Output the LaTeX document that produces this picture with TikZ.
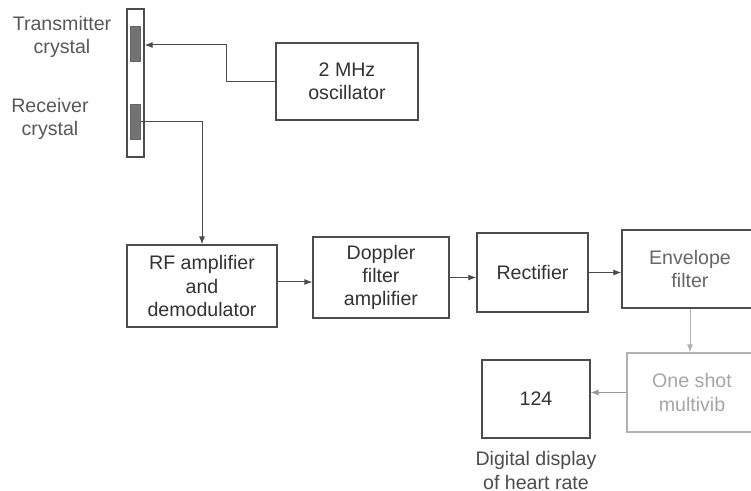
\documentclass[tikz,border=0pt]{standalone}
\usepackage{fontspec}
\setmainfont{Liberation Sans}
\usetikzlibrary{arrows.meta,positioning}

\begin{document}
\begin{tikzpicture}[x=0.5pt,y=-0.5pt,>={Latex[length=4pt,width=3pt]},
    font=\fontsize{9.8}{11.6}\selectfont,
    block/.style={draw=black!70, line width=0.6pt, text=black!80, align=center, inner sep=2pt},
    faded/.style={draw=black!30, text=black!35},
    link/.style={->, draw=black!70, line width=0.5pt},
    crystal/.style={draw=black!60, fill=black!55, minimum width=5pt, minimum height=17.5pt, inner sep=0pt}]

    % --- Page frame ---
    \fill[white] (0,0) rectangle (751,491);
    \useasboundingbox (0,0) rectangle (751,491);

    % --- Probe with crystals ---
    \node[draw=black!70, line width=0.6pt, minimum width=8.5pt, minimum height=74pt, inner sep=0pt] (probe) at (135.5,83) {};
    \node[crystal] (txcrystal) at (135,44) {};
    \node[crystal] (rxcrystal) at (135.5,122) {};
    \node[text=black!65, align=center] (txlabel) at (62,37) {Transmitter\\crystal};
    \node[text=black!65, align=center] (rxlabel) at (50,119) {Receiver\\crystal};

    % --- Blocks ---
    \node[block, minimum width=71pt, minimum height=38.5pt] (osc) at (347,81.5) {2 MHz\\oscillator};
    \node[block, minimum width=75pt, minimum height=41pt] (rfamp) at (202,286) {RF amplifier\\and\\demodulator};
    \node[block, minimum width=68pt, minimum height=40.5pt] (doppler) at (381,277.5) {Doppler\\filter\\amplifier};
    \node[block, minimum width=55.5pt, minimum height=39.5pt] (rectifier) at (532.5,272.5) {Rectifier};
    \node[block, text=black!60, minimum width=68pt, minimum height=39pt] (envelope) at (690,269) {Envelope\\filter};
    \node[block, faded, minimum width=65pt, minimum height=39.5pt] (oneshot) at (692,392.5) {One shot\\multivib};
    \node[block, minimum width=54pt, minimum height=39pt] (display) at (536,399) {124};
    \node[text=black!70, align=center, below=3pt of display] (displaylabel) {Digital display\\of heart rate};

    % --- Connections ---
    \coordinate (oscbend) at (226,45);
    \draw[link] (osc.west) -| (oscbend) -- (oscbend -| probe.east);
    \draw[link] (rxcrystal.east) -| (rfamp.north);
    \draw[link] ([yshift=2pt]rfamp.east) -- ([yshift=2pt]rfamp.east -| doppler.west);
    \draw[link] (doppler.east) -- (doppler.east -| rectifier.west);
    \draw[link] (rectifier.east) -- (rectifier.east -| envelope.west);
    \draw[link, draw=black!30] (envelope.south) -- (envelope.south |- oneshot.north);
    \draw[link, draw=black!40] (oneshot.west) -- (oneshot.west -| display.east);

\end{tikzpicture}
\end{document}
